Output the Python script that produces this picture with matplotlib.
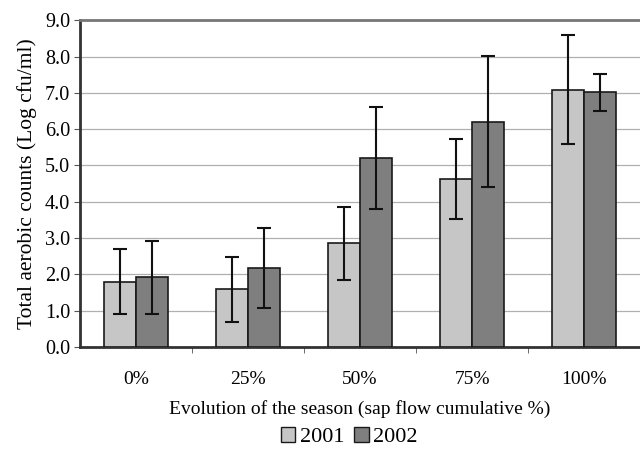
import numpy as np
import matplotlib
matplotlib.use("Agg")
from matplotlib import pyplot as plt
from matplotlib.patches import Patch

categories = ["0%", "25%", "50%", "75%", "100%"]
counts_2001 = [1.80, 1.59, 2.86, 4.62, 7.08]
err_2001 = [0.90, 0.90, 1.00, 1.10, 1.50]
counts_2002 = [1.92, 2.17, 5.20, 6.21, 7.01]
err_2002 = [1.00, 1.10, 1.40, 1.80, 0.50]

plt.rcParams["font.family"] = ["Liberation Serif", "DejaVu Serif"]

fig = plt.figure(figsize=(6.4, 4.49), dpi=100)
ax = fig.add_axes([0.125, 0.227, 0.875, 0.728])

x = np.arange(len(categories))
w = 0.29
ax.bar(x - w / 2, counts_2001, w, color="#c6c6c6", edgecolor="#1a1a1a", linewidth=1.2,
       yerr=err_2001, capsize=5, error_kw=dict(elinewidth=1.5, capthick=1.5, ecolor="#111111"), zorder=3)
ax.bar(x + w / 2, counts_2002, w, color="#7f7f7f", edgecolor="#1a1a1a", linewidth=1.2,
       yerr=err_2002, capsize=5, error_kw=dict(elinewidth=1.5, capthick=1.5, ecolor="#111111"), zorder=3)

ax.set_xlim(-0.5, len(categories) - 0.5)
ax.set_ylim(0, 9)
ax.set_yticks(np.arange(0, 9.5, 1.0))
ax.set_yticklabels([f"{v:.1f}" for v in np.arange(0, 9.5, 1.0)], fontsize=14.5)
ax.set_xticks(x)
ax.set_xticklabels(categories, fontsize=14)
ax.set_xticks(np.arange(0.5, len(categories) - 0.5, 1), minor=True)
ax.tick_params(axis="x", which="major", length=0, pad=17)
ax.tick_params(axis="x", which="minor", length=4, color="#555555")
ax.tick_params(axis="y", length=4, color="#555555", pad=3)
ax.grid(True, axis="y", color="#b0b0b0", linewidth=0.9, zorder=0)

ax.spines["left"].set_linewidth(2)
ax.spines["left"].set_color("#333333")
ax.spines["bottom"].set_linewidth(2)
ax.spines["bottom"].set_color("#333333")
ax.spines["top"].set_linewidth(2)
ax.spines["top"].set_color("#777777")
ax.spines["right"].set_visible(False)

ax.set_ylabel("Total aerobic counts (Log cfu/ml)", fontsize=15.5, labelpad=6)
ax.set_xlabel("Evolution of the season (sap flow cumulative %)", fontsize=14, labelpad=9)

handles = [Patch(facecolor="#c6c6c6", edgecolor="#1a1a1a"),
           Patch(facecolor="#7f7f7f", edgecolor="#1a1a1a")]
fig.legend(handles, ["2001", "2002"], loc="center", bbox_to_anchor=(0.546, 0.026),
           ncol=2, frameon=False, fontsize=16, handlelength=0.65, handleheight=0.65,
           handletextpad=0.2, columnspacing=0.45)

plt.savefig("out.png", dpi=100)
plt.close()
